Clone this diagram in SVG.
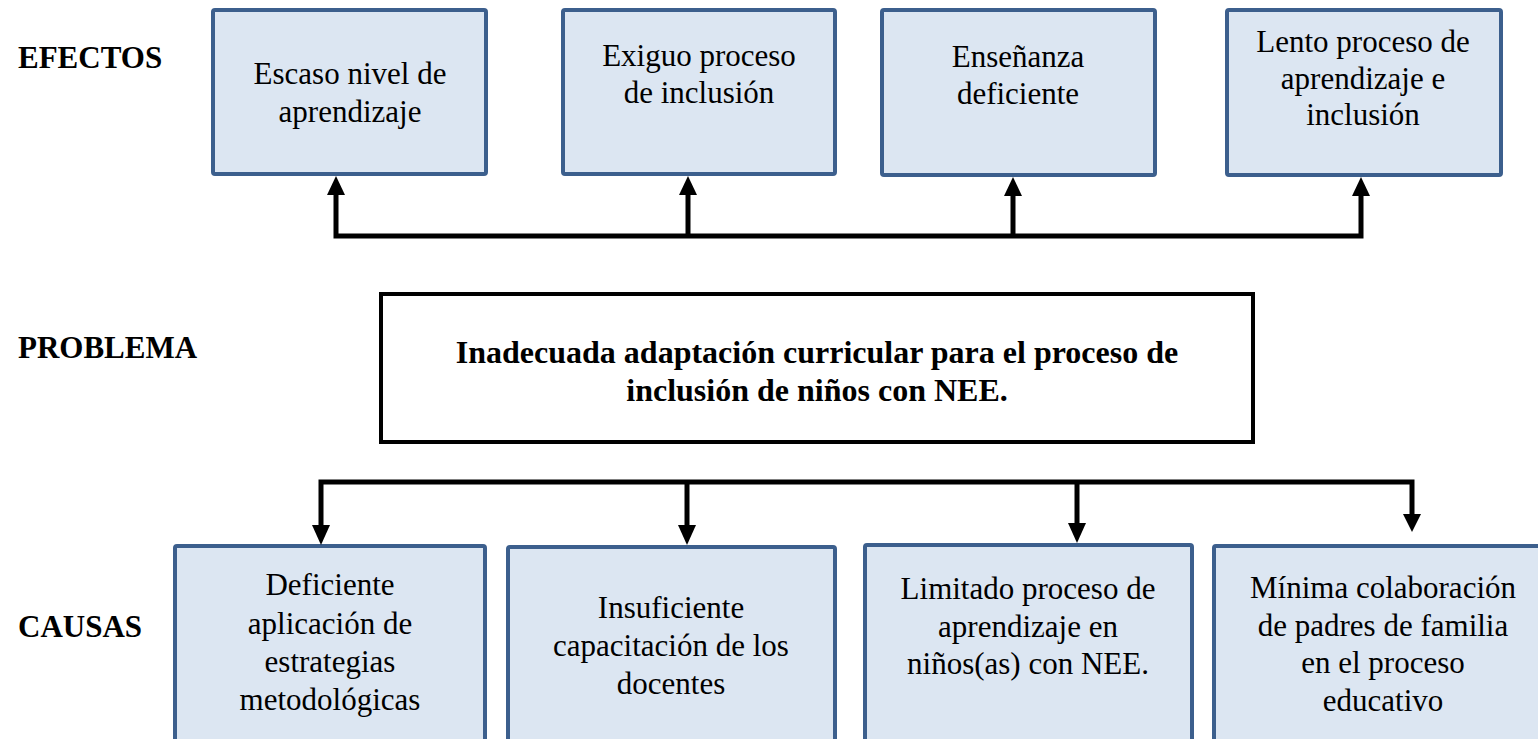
<svg xmlns="http://www.w3.org/2000/svg" width="1538" height="739" viewBox="0 0 1538 739">
<style>
.box{fill:#DCE6F2;stroke:#3C5F8D;stroke-width:4}
.prob{fill:#FFFFFF;stroke:#000000;stroke-width:4}
.t{font-family:"Liberation Serif","Times New Roman",serif;font-size:31px;fill:#000;text-anchor:middle}
.lbl{font-family:"Liberation Serif","Times New Roman",serif;font-size:31px;font-weight:bold;fill:#000}
.pt{font-family:"Liberation Serif","Times New Roman",serif;font-size:32px;font-weight:bold;fill:#000;text-anchor:middle}
.ln{fill:none;stroke:#000;stroke-width:5;stroke-linejoin:miter}
.ah{fill:#000}
</style>
<rect width="1538" height="739" fill="#FFFFFF"/>
<g id="labels">
<text class="lbl" x="18" y="68">EFECTOS</text>
<text class="lbl" x="18" y="358">PROBLEMA</text>
<text class="lbl" x="18" y="637">CAUSAS</text>
</g>
<g id="efecto1">
<rect class="box" x="213" y="10" width="273" height="164" rx="2"/>
<text class="t" x="350" y="84">Escaso nivel de</text>
<text class="t" x="350" y="122">aprendizaje</text>
</g>
<g id="efecto2">
<rect class="box" x="563" y="10" width="272" height="164" rx="2"/>
<text class="t" x="699" y="66">Exiguo proceso</text>
<text class="t" x="699" y="103">de inclusión</text>
</g>
<g id="efecto3">
<rect class="box" x="882" y="10" width="273" height="165" rx="2"/>
<text class="t" x="1018" y="67">Enseñanza</text>
<text class="t" x="1018" y="104">deficiente</text>
</g>
<g id="efecto4">
<rect class="box" x="1227" y="10" width="274" height="165" rx="2"/>
<text class="t" x="1363" y="52">Lento proceso de</text>
<text class="t" x="1363" y="89">aprendizaje e</text>
<text class="t" x="1363" y="125">inclusión</text>
</g>
<g id="problema">
<rect class="prob" x="381" y="294" width="872" height="148"/>
<text class="pt" x="817" y="363">Inadecuada adaptación curricular para el proceso de</text>
<text class="pt" x="817" y="401">inclusión de niños con NEE.</text>
</g>
<g id="causa1">
<rect class="box" x="175" y="546" width="310" height="200" rx="2"/>
<text class="t" x="330" y="595">Deficiente</text>
<text class="t" x="330" y="634">aplicación de</text>
<text class="t" x="330" y="672">estrategias</text>
<text class="t" x="330" y="710">metodológicas</text>
</g>
<g id="causa2">
<rect class="box" x="508" y="547" width="327" height="200" rx="2"/>
<text class="t" x="671" y="618">Insuficiente</text>
<text class="t" x="671" y="656">capacitación de los</text>
<text class="t" x="671" y="694">docentes</text>
</g>
<g id="causa3">
<rect class="box" x="865" y="545" width="327" height="200" rx="2"/>
<text class="t" x="1028" y="599">Limitado proceso de</text>
<text class="t" x="1028" y="637">aprendizaje en</text>
<text class="t" x="1028" y="674">niños(as) con NEE.</text>
</g>
<g id="causa4">
<rect class="box" x="1214" y="546" width="330" height="200" rx="2"/>
<text class="t" x="1383" y="598">Mínima colaboración</text>
<text class="t" x="1383" y="636">de padres de familia</text>
<text class="t" x="1383" y="673">en el proceso</text>
<text class="t" x="1383" y="711">educativo</text>
</g>
<g id="connectors">
<path class="ln" d="M336,192 V236 H1361 V192"/>
<path class="ln" d="M688,192 V236"/>
<path class="ln" d="M1013,192 V236"/>
<polygon class="ah" points="336,176 327,195 345,195"/>
<polygon class="ah" points="688,176 679,195 697,195"/>
<polygon class="ah" points="1013,177 1004,196 1022,196"/>
<polygon class="ah" points="1361,177 1352,196 1370,196"/>
<path class="ln" d="M321,528 V482 H1412 V518"/>
<path class="ln" d="M687,482 V528"/>
<path class="ln" d="M1077,482 V526"/>
<polygon class="ah" points="321,545 312,525 330,525"/>
<polygon class="ah" points="687,545 678,525 696,525"/>
<polygon class="ah" points="1077,543 1068,523 1086,523"/>
<polygon class="ah" points="1412,532 1403,514 1421,514"/>
</g>
</svg>
